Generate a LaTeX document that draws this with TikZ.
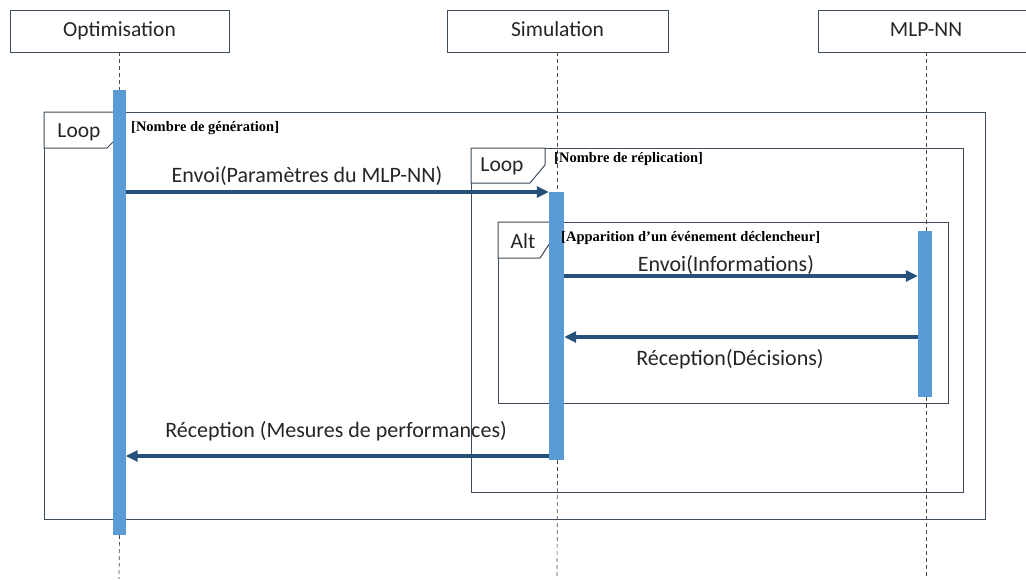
\documentclass[tikz,border=0pt]{standalone}
\usepackage{fontspec}
\setmainfont{Carlito}
\newfontfamily\guardfont{Liberation Serif}
\usetikzlibrary{arrows.meta}
\definecolor{barblue}{HTML}{5B9BD5}
\definecolor{msgblue}{HTML}{24507A}
\definecolor{frm}{HTML}{3E4B5A}
\begin{document}
\begin{tikzpicture}[x=1pt,y=-1pt,
  head/.style={draw=frm, line width=0.9pt, minimum height=42pt, inner sep=0pt,
    text height=15pt, text depth=4pt,
    font=\fontsize{21.5}{24}\selectfont, text=black!85},
  actbar/.style={fill=barblue, draw=none, minimum width=13pt, inner sep=0pt},
  life/.style={draw=black!70, dash pattern=on 4pt off 3pt, line width=0.7pt},
  msgarrow/.style={draw=msgblue, line width=3.4pt, -{Triangle[length=12pt,width=11pt]}},
  frame/.style={draw=frm, line width=1pt},
  lbl/.style={font=\fontsize{22}{24}\selectfont, text=black!85, inner sep=0pt},
  tablbl/.style={font=\fontsize{21.5}{24}\selectfont, text=black!85, inner sep=0pt},
  guard/.style={font=\guardfont\bfseries\fontsize{14.5}{16}\selectfont, anchor=north west, inner sep=0pt, text=black}
]
\clip (0,0) rectangle (1026,579);
\fill[white] (0,0) rectangle (1026,579);

% heads
\node[head, minimum width=219pt] (opt) at (119.5,31) {Optimisation};
\node[head, minimum width=221pt] (sim) at (557.5,31) {Simulation};
\node[head, minimum width=216pt] (mlp) at (926,31) {MLP-NN};

% frames
\draw[frame] (44,112) rectangle (985,519);
\draw[frame, fill=white] (44,112) -- (123,112) -- (123,132) -- (107,148) -- (44,148) -- cycle;
\node[tablbl] (loop1) at (79,132) {Loop};

\draw[frame] (471,148) rectangle (963,492);
\draw[frame, fill=white] (471,148) -- (545,148) -- (545,165) -- (530,183) -- (471,183) -- cycle;
\node[tablbl] (loop2) at (502,166) {Loop};

\draw[frame] (498,222) rectangle (948,403);
\draw[frame, fill=white] (498,222) -- (552,222) -- (552,240) -- (540,258) -- (498,258) -- cycle;
\node[tablbl] (alt) at (523,241) {Alt};

% bars
\node[actbar, minimum height=445pt] (optbar) at (119,312.5) {};
\node[actbar, minimum height=268pt, minimum width=15pt] (simbar) at (556.5,326) {};
\node[actbar, minimum height=166pt, minimum width=14pt] (mlpbar) at (925,314) {};

% lifelines
\coordinate (optend) at (119,579);
\coordinate (simend) at (557,579);
\coordinate (mlpend) at (926,579);
\draw[life] (opt.south) -- (opt.south |- optbar.north);
\draw[life] (opt.south |- optbar.south) -- (optend);
\draw[life] (sim.south) -- (sim.south |- simbar.north);
\draw[life] (sim.south |- simbar.south) -- (simend);
\draw[life] (mlp.south) -- (mlp.south |- mlpbar.north);
\draw[life] (mlp.south |- mlpbar.south) -- (mlpend);

% guards
\node[guard] (g1) at (131,121) {[Nombre de génération]};
\node[guard] (g2) at (554,152) {[Nombre de réplication]};
\node[guard] (g3) at (561,231) {[Apparition d’un événement déclencheur]};

% messages
\coordinate (y1) at (0,192);
\coordinate (y2) at (0,276);
\coordinate (y3) at (0,337);
\coordinate (y4) at (0,456);
\draw[msgarrow] (optbar.east |- y1) -- (simbar.west |- y1);
\draw[msgarrow] (simbar.east |- y2) -- (mlpbar.west |- y2);
\draw[msgarrow] (mlpbar.west |- y3) -- (simbar.east |- y3);
\draw[msgarrow] (simbar.west |- y4) -- (optbar.east |- y4);

\node[lbl] (l1) at (307,176) {Envoi(Paramètres du MLP-NN)};
\node[lbl] (l2) at (726,265) {Envoi(Informations)};
\node[lbl] (l3) at (730,359) {Réception(Décisions)};
\node[lbl] (l4) at (336,431) {Réception (Mesures de performances)};
\end{tikzpicture}
\end{document}
